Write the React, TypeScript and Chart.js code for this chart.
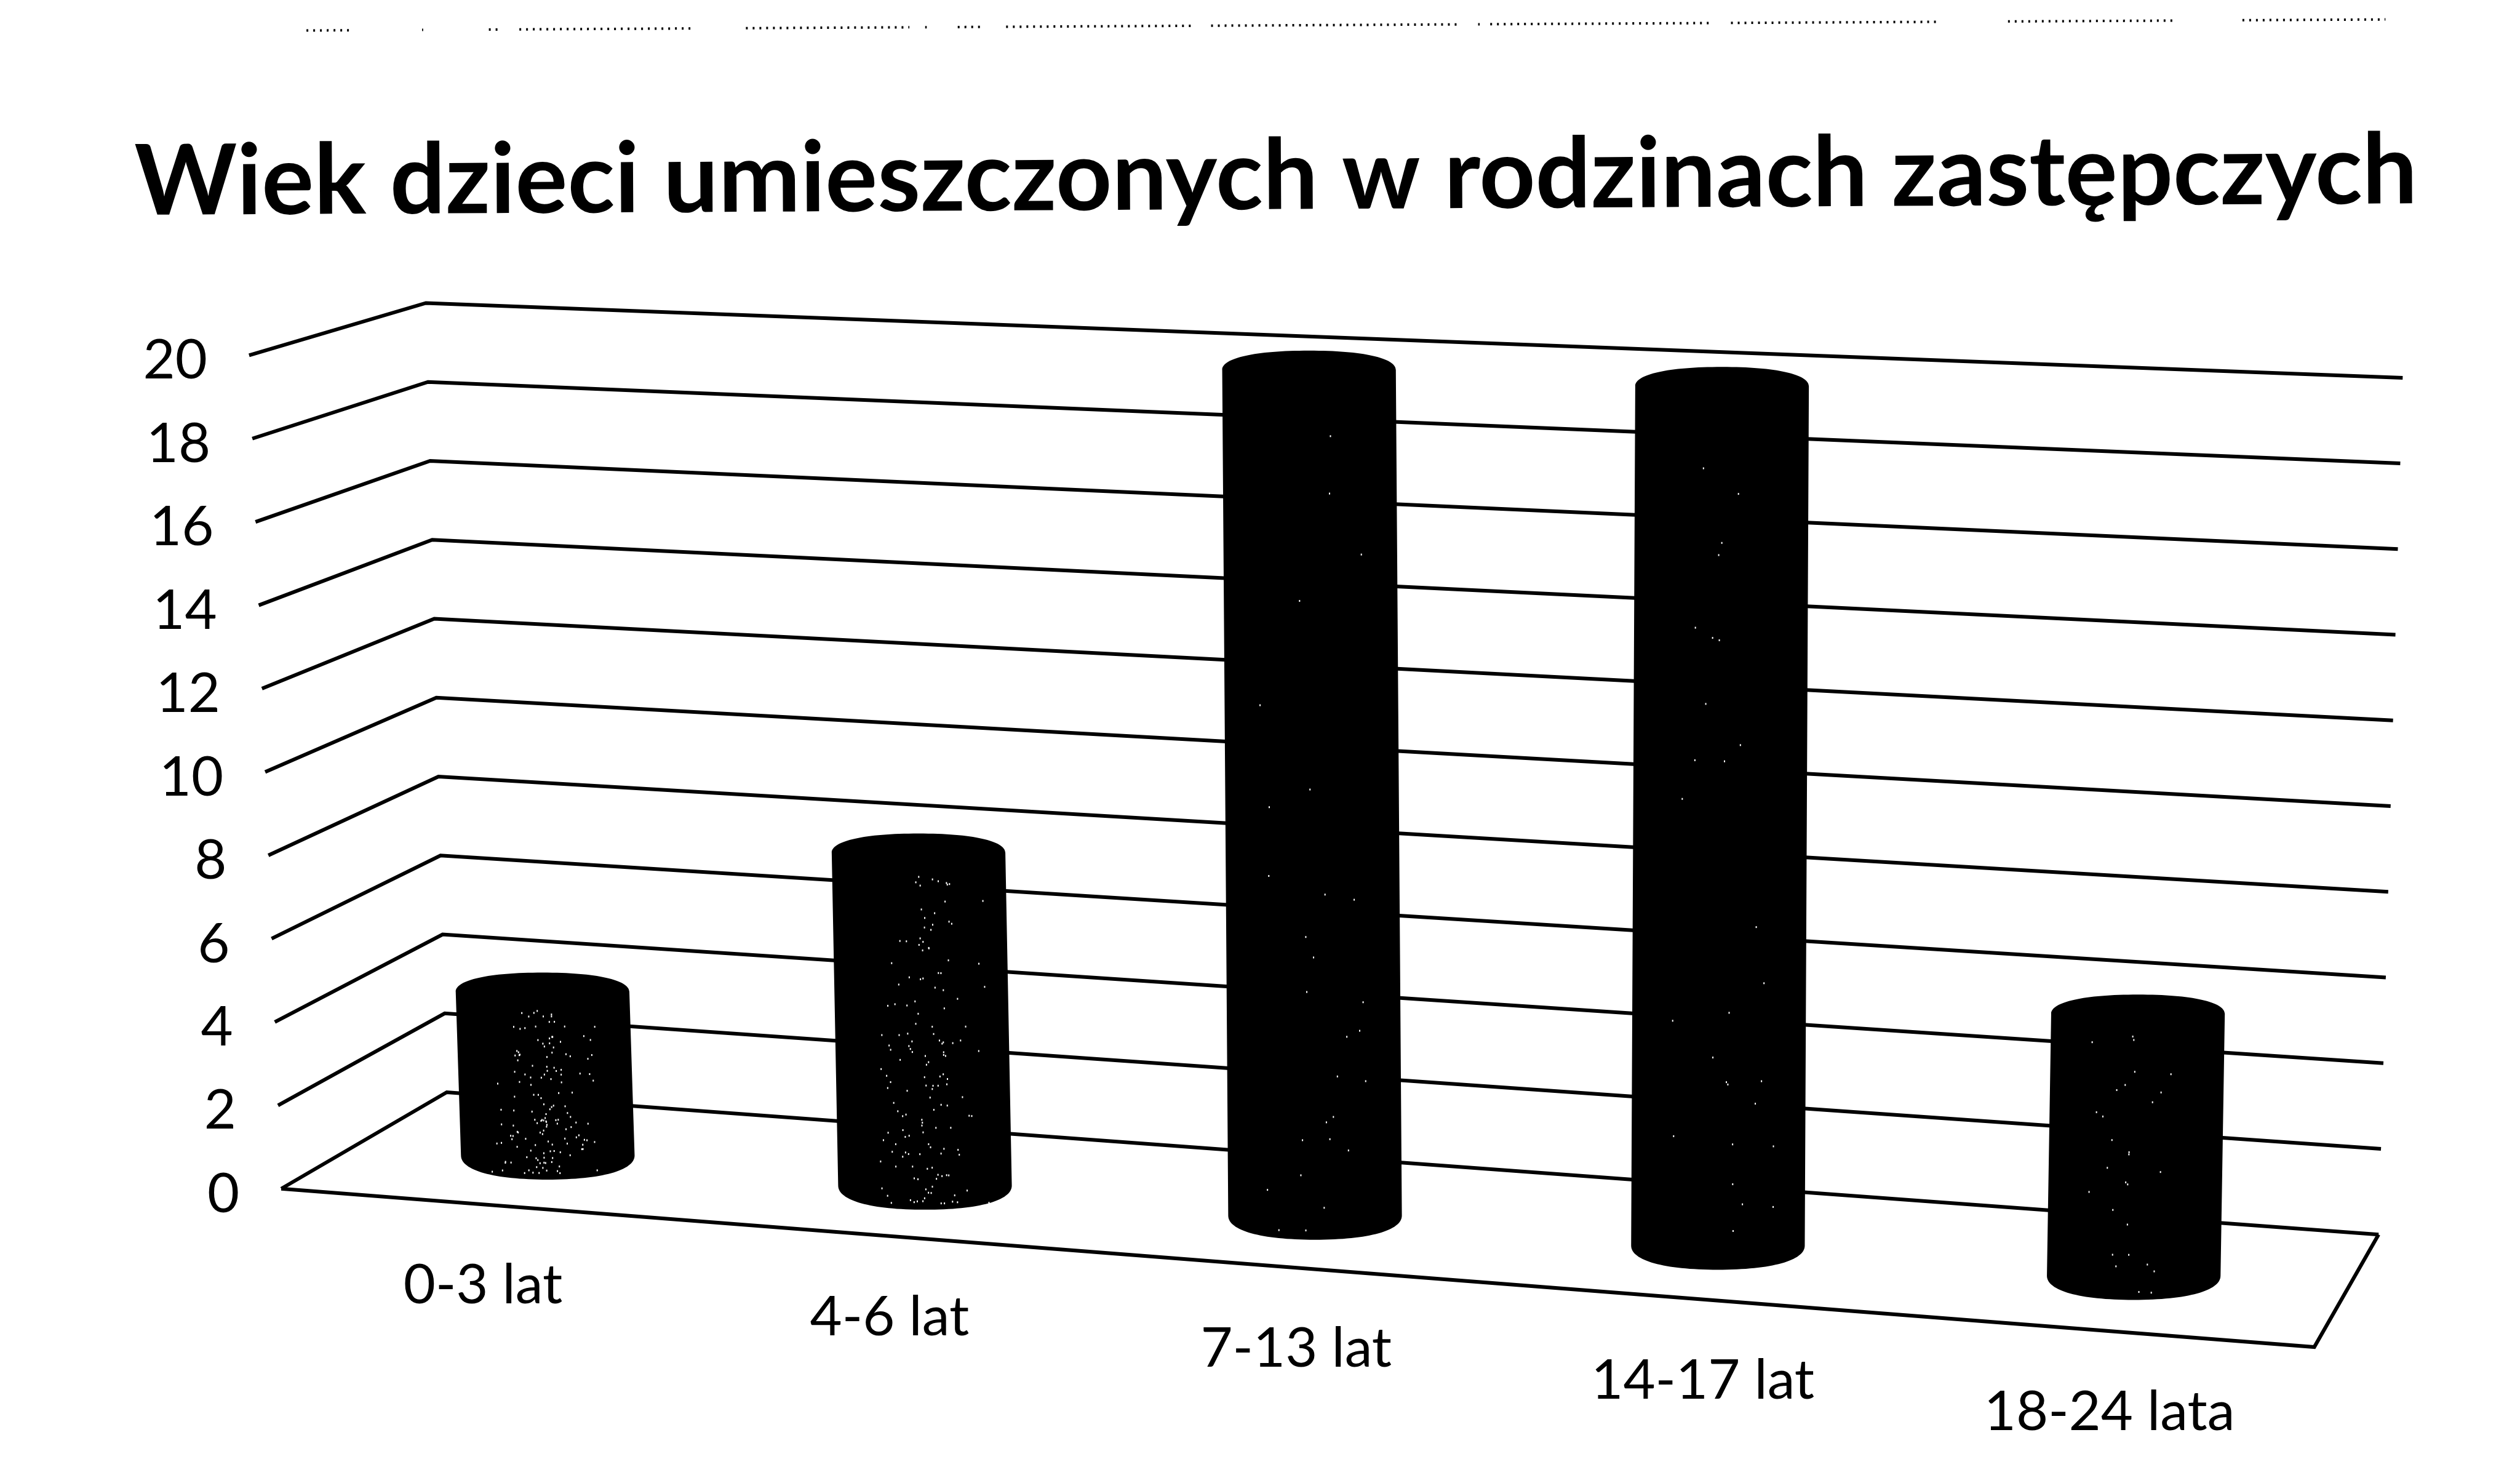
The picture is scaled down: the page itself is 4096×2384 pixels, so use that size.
import React, { useEffect, useRef } from "react";
import { Chart, registerables } from "chart.js";

Chart.register(...registerables);

const categories = ["0-3 lat", "4-6 lat", "7-13 lat", "14-17 lat", "18-24 lata"];
const childCounts = [4, 8, 20, 20, 6];
const chartTitle = "Wiek dzieci umieszczonych w rodzinach zastępczych";
const scanNoiseSpans: [number, number][] = [
  [583, 665], [803, 805], [930, 950], [988, 1317], [1419, 1730], [1760, 1763], [1822, 1868],
  [1914, 2266], [2304, 2600], [2600, 2774], [2812, 2815], [2835, 3255], [3293, 3690], [3820, 4140], [4266, 4538],
];

const W = 4096;
const H = 2384;
const S = W / 1568;

// 3D frame of the chart: [x, y] at the corners of the floor (value 0) and the ceiling (value 20)
const frameFloor = { fl: [175, 739.5], fr: [1440, 838], bl: [278, 679.5], br: [1480, 768] };
const frameTop = { fl: [155, 221], fr: [1455, 276], bl: [265, 188.5], br: [1495, 235] };

const FONT = "Lato, Carlito, 'Open Sans', sans-serif";
const ROUND = 0.62;

function bilinear(f: any, u: number, d: number, k: number) {
  const front = f.fl[k] + (f.fr[k] - f.fl[k]) * u;
  const back = f.bl[k] + (f.br[k] - f.bl[k]) * u;
  return front + (back - front) * d;
}

function project(u: number, d: number, t: number): [number, number] {
  const x0 = bilinear(frameFloor, u, d, 0);
  const y0 = bilinear(frameFloor, u, d, 1);
  const x1 = bilinear(frameTop, u, d, 0);
  const y1 = bilinear(frameTop, u, d, 1);
  // perspective bow and lean of the mid-depth row
  const mid = 4 * d * (1 - d);
  const bow = -100 * u * (1 - u) * mid - 3 * t * mid;
  return [(x0 + (x1 - x0) * t + bow) * S, (y0 + (y1 - y0) * t) * S];
}

const hash = (n: number) => {
  const v = Math.sin(n * 12.9898) * 43758.5453;
  return v - Math.floor(v);
};

const perspectivePlugin = {
  id: "perspective",
  beforeDraw(chart: any) {
    const { ctx } = chart;
    ctx.save();
    ctx.fillStyle = "#ffffff";
    ctx.fillRect(0, 0, chart.width, chart.height);
    ctx.restore();
    // scan noise along the top edge
    ctx.save();
    ctx.strokeStyle = "#000000";
    ctx.lineWidth = 4;
    ctx.setLineDash([3, 8]);
    const k = W / 4794;
    for (const [a, b] of scanNoiseSpans) {
      const ya = 58 - ((a - 583) / (4538 - 583)) * 21;
      const yb = 58 - ((b - 583) / (4538 - 583)) * 21;
      ctx.beginPath();
      ctx.moveTo(a * k, ya * k);
      ctx.lineTo(b * k, yb * k);
      ctx.stroke();
    }
    ctx.restore();
    // the title of the scanned page sits slightly rotated
    ctx.save();
    ctx.translate(2074, 300);
    ctx.rotate((-0.29 * Math.PI) / 180);
    ctx.translate(-2074, -300);
  },
  beforeDatasetsDraw(chart: any) {
    chart.ctx.restore();
  },
  afterDatasetsDraw(chart: any) {
    const { ctx, chartArea: a, scales } = chart;
    const xs = scales.x;
    const ys = scales.y;
    const toT = (v: number) => (a.bottom - ys.getPixelForValue(v)) / (a.bottom - a.top);
    const toU = (px: number) => (px - a.left) / (a.right - a.left);

    ctx.save();
    ctx.strokeStyle = "#000000";
    ctx.lineWidth = 6;
    ctx.lineJoin = "miter";

    for (const tick of ys.ticks) {
      const t = toT(tick.value);
      const p = project(0, 0, t);
      const q = project(0, 1, t);
      const r = project(1, 1, t);
      ctx.beginPath();
      ctx.moveTo(p[0], p[1]);
      ctx.lineTo(q[0], q[1]);
      ctx.lineTo(r[0], r[1]);
      ctx.stroke();
    }
    const f0 = project(0, 0, 0);
    const f1 = project(1, 0, 0);
    const f2 = project(1, 1, 0);
    ctx.beginPath();
    ctx.moveTo(f0[0], f0[1]);
    ctx.lineTo(f1[0], f1[1]);
    ctx.lineTo(f2[0], f2[1]);
    ctx.stroke();

    // cylinders
    const meta = chart.getDatasetMeta(0);
    const floorW = (1460 - 226) * S;
    meta.data.forEach((bar: any, index: number) => {
      const u = toU(bar.x);
      const t = (bar.base - bar.y) / (a.bottom - a.top);
      const rx = ((bar.width / (a.right - a.left)) * floorW) / 2;
      const ryTop = 12 * S;
      const ryBot = 15 * S;
      const base = project(u, 0.5, 0);
      const top = project(u, 0.5, t);
      const [tx, ty] = top;
      const [bx, by] = base;
      ctx.fillStyle = "#000000";
      ctx.beginPath();
      ctx.moveTo(tx - rx, ty);
      ctx.bezierCurveTo(tx - rx, ty - ryTop * ROUND, tx - rx * ROUND, ty - ryTop, tx, ty - ryTop);
      ctx.bezierCurveTo(tx + rx * ROUND, ty - ryTop, tx + rx, ty - ryTop * ROUND, tx + rx, ty);
      ctx.lineTo(bx + rx, by);
      ctx.bezierCurveTo(bx + rx, by + ryBot * ROUND, bx + rx * ROUND, by + ryBot, bx, by + ryBot);
      ctx.bezierCurveTo(bx - rx * ROUND, by + ryBot, bx - rx, by + ryBot * ROUND, bx - rx, by);
      ctx.closePath();
      ctx.fill();

      // pale scan specks in the middle of the cylinder, denser on the two short left ones
      const count = index < 2 ? 150 : 28;
      ctx.fillStyle = "#ffffff";
      for (let i = 1; i <= count; i++) {
        const fx = hash(i + index * 211);
        const fy = hash(i * 3 + 17 + index * 101);
        const sx = bx + (fx + hash(i * 7 + index) - 1) * rx * 0.75;
        const sy = by + ryBot * 0.7 - Math.pow(fy, 1.6) * (by - ty);
        ctx.fillRect(sx, sy, 2, 3);
      }
    });

    // tick labels follow the perspective of the front edge
    ctx.fillStyle = "#000000";
    ctx.font = `400 90px ${FONT}`;
    ctx.textBaseline = "middle";
    ctx.textAlign = "right";
    for (const tick of ys.ticks) {
      const p = project(0, 0, toT(tick.value));
      ctx.fillText(String(tick.label), p[0] - 26 * S, p[1] + 3.5 * S);
    }
    ctx.textAlign = "center";
    xs.getLabels().forEach((label: string, i: number) => {
      const p = project(toU(xs.getPixelForValue(i)), 0, 0);
      ctx.fillText(label, p[0] - 1 * S, p[1] + 50.5 * S);
    });
    ctx.restore();
  },
};

export default function App() {
  const ref = useRef<HTMLCanvasElement | null>(null);
  useEffect(() => {
    document.body.style.margin = "0";
    document.body.style.background = "#ffffff";
    const chart = new Chart(ref.current as HTMLCanvasElement, {
      type: "bar",
      data: {
        labels: categories,
        datasets: [
          {
            label: chartTitle,
            data: childCounts,
            backgroundColor: "rgba(0,0,0,0)",
            borderWidth: 0,
            categoryPercentage: 0.85,
            barPercentage: 0.515,
          },
        ],
      },
      options: {
        animation: false,
        responsive: false,
        devicePixelRatio: 1,
        layout: { padding: { left: 52, right: 0, top: 0, bottom: 0 } },
        plugins: {
          legend: { display: false },
          tooltip: { enabled: false },
          title: {
            display: true,
            text: chartTitle,
            color: "#000000",
            font: { family: FONT, size: 159, weight: "bold" },
            padding: { top: 193, bottom: 100 },
          },
        },
        scales: {
          x: {
            grid: { display: false },
            border: { display: false },
            ticks: { display: false },
          },
          y: {
            min: 0,
            max: 20,
            grid: { display: false },
            border: { display: false },
            ticks: { display: false, stepSize: 2 },
          },
        },
      },
      plugins: [perspectivePlugin],
    } as any);
    return () => chart.destroy();
  }, []);
  return (
    <div style={{ width: W, height: H }}>
      <canvas ref={ref} width={W} height={H} style={{ display: "block" }} />
    </div>
  );
}
